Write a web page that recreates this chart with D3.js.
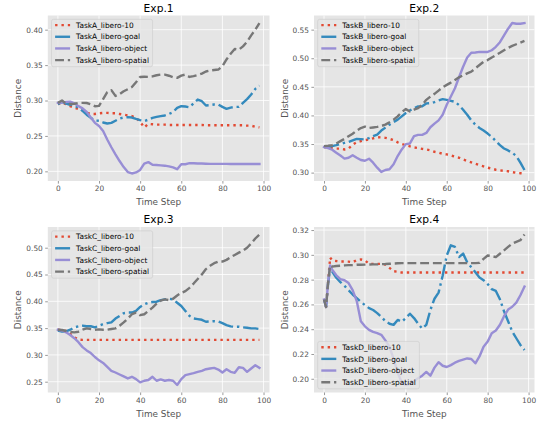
<!DOCTYPE html>
<html>
<head>
<meta charset="utf-8">
<script src="https://cdn.jsdelivr.net/npm/d3@7"></script>
<style>
  html, body { margin: 0; padding: 0; background: #ffffff; }
  svg { display: block; font-family: "DejaVu Sans", sans-serif; }
</style>
</head>
<body>
<svg id="chart" width="539" height="421"></svg>
<script>
// ---------------- DATA ----------------
const stepsABC = [0,2,4,6,8,10,12,14,16,18,20,22,24,26,28,30,32,34,36,38,40,42,44,46,48,50,52,54,56,58,60,62,64,66,68,70,72,74,76,78,80,82,84,86,88,90,92,94,96,98];
const stepsD = [0,1,2,3,4,6,8,10,12,14,16,18,20,22,24,26,28,30,32,34,36,38,40,42,44,46,48,50,52,54,56,58,60,62,64,66,68,70,72,74,76,78,80,82,84,86,88,90,92,94,96,98];

const titles = ["Exp.1", "Exp.2", "Exp.3", "Exp.4"];
const taskNames = ["TaskA", "TaskB", "TaskC", "TaskD"];
const suiteNames = ["libero-10", "libero-goal", "libero-object", "libero-spatial"];
const xTicks = [0, 20, 40, 60, 80, 100];
const yTicks1 = [0.20, 0.25, 0.30, 0.35, 0.40];
const yTicks2 = [0.30, 0.35, 0.40, 0.45, 0.50, 0.55];
const yTicks3 = [0.25, 0.30, 0.35, 0.40, 0.45, 0.50];
const yTicks4 = [0.20, 0.22, 0.24, 0.26, 0.28, 0.30, 0.32];

// Exp.1
const A_10 = [.295,.297,.295,.292,.290,.288,.286,.283,.281,.281,
  .282,.2825,.2825,.282,.282,.281,.280,.279,.278,.2755,
  .270,.262,.267,.2665,.266,.266,.266,.2655,.2655,.2655,
  .2655,.2655,.2655,.2655,.2655,.2655,.265,.265,.265,.265,
  .265,.265,.265,.265,.265,.265,.2645,.2645,.263,.262];
const A_goal = [.295,.298,.2955,.294,.293,.2897,.2855,.280,.2755,.2718,
  .2714,.269,.2676,.2685,.2715,.2746,.276,.2765,.276,.274,
  .2723,.271,.273,.2755,.277,.278,.2789,.281,.2836,.2897,
  .292,.2915,.2905,.296,.3014,.299,.293,.2935,.2944,.2944,
  .291,.2883,.290,.291,.291,.2967,.302,.3085,.3164,.3211];
const A_object = [.2967,.297,.298,.2985,.296,.292,.289,.284,.276,.2685,
  .264,.257,.245,.234,.224,.2146,.206,.199,.197,.1985,
  .202,.211,.213,.2094,.209,.2085,.208,.207,.2055,.203,
  .210,.210,.2115,.2115,.211,.211,.2108,.2105,.2105,.2105,
  .2105,.2105,.2104,.2104,.2104,.2103,.2103,.2103,.2103,.2103];
const A_spatial = [.2967,.300,.2955,.295,.2955,.2965,.2967,.2965,.2948,.292,
  .2925,.302,.3117,.3146,.3065,.309,.3131,.316,.319,.3258,
  .3333,.3335,.3333,.334,.3357,.3366,.3366,.335,.3329,.332,
  .3352,.3366,.3333,.3345,.336,.338,.341,.3423,.343,.3437,
  .3484,.358,.366,.3728,.3718,.3765,.383,.392,.400,.4094];

// Exp.2
const B_10 = [.3446,.344,.343,.342,.342,.3405,.342,.349,.3532,.355,
  .3567,.358,.360,.3619,.3615,.3608,.359,.3567,.353,.350,
  .348,.346,.344,.343,.3415,.3405,.339,.3365,.335,.333,
  .3318,.330,.328,.326,.323,.3203,.318,.3155,.313,.311,
  .3087,.307,.305,.304,.303,.3023,.301,.2995,.299,.2985];
const B_goal = [.3446,.345,.3463,.348,.3503,.352,.3538,.3565,.359,.3585,
  .3579,.3605,.3637,.3666,.3735,.3787,.3839,.3885,.3926,.3984,
  .4042,.4088,.4128,.4157,.416,.421,.4215,.4233,.4262,.4285,
  .4273,.4256,.4238,.418,.41,.4013,.3914,.3839,.3781,.3735,
  .3683,.3625,.355,.348,.3422,.3388,.3347,.329,.3174,.3046];
const B_object = [.3446,.343,.340,.3347,.330,.3245,.326,.3305,.326,.322,
  .3208,.3243,.3174,.3087,.3012,.3046,.3058,.3145,.329,.3405,
  .3498,.351,.3637,.366,.366,.3694,.3793,.3856,.3914,.4013,
  .4186,.4331,.4476,.4667,.4852,.5014,.5095,.510,.5112,.511,
  .511,.514,.520,.528,.540,.5517,.5616,.5604,.5604,.5616];
const B_spatial = [.3463,.347,.348,.351,.355,.359,.3637,.368,.3735,.378,
  .3805,.3781,.379,.3799,.3815,.3839,.388,.3926,.3984,.4059,
  .4111,.407,.41,.4128,.4186,.4273,.4331,.4377,.4435,.4493,
  .4534,.4574,.462,.4667,.4701,.4736,.4765,.4823,.4881,.4939,
  .4968,.5014,.5054,.5095,.5141,.5182,.5216,.5245,.5274,.5303];

// Exp.3
const C_10 = [.347,.346,.3446,.339,.333,.3286,.328,.328,.328,.328,
  .328,.328,.328,.328,.328,.328,.328,.328,.328,.328,
  .328,.328,.328,.328,.328,.328,.328,.328,.328,.328,
  .328,.328,.328,.328,.328,.328,.328,.328,.328,.328,
  .328,.328,.328,.328,.328,.328,.328,.328,.328,.328];
const C_goal = [.3452,.3434,.3438,.347,.3514,.3532,.3544,.3535,.3535,.3514,
  .3544,.3575,.3593,.3606,.3679,.3728,.3778,.379,.379,.3821,
  .3894,.3943,.3974,.3986,.3993,.4023,.4036,.4048,.4036,.3974,
  .3913,.3821,.3728,.3679,.3667,.3655,.3618,.3624,.363,.3624,
  .3593,.3557,.3532,.3526,.3526,.3514,.3507,.3495,.3495,.3483];
const C_object = [.347,.3455,.3421,.3372,.3311,.3237,.3145,.3084,.3034,.2961,
  .2899,.285,.2776,.2703,.2672,.2635,.2598,.2561,.2592,.2549,
  .2488,.2518,.2531,.2592,.2518,.2543,.2518,.2531,.2518,.2439,
  .2549,.2623,.2641,.266,.2684,.2703,.2733,.2746,.2758,.2727,
  .2672,.2733,.2684,.2666,.277,.2758,.2684,.2746,.2807,.2758];
const C_spatial = [.347,.3465,.3446,.3427,.3421,.3433,.347,.3495,.3483,.347,
  .3477,.347,.347,.3483,.3495,.3544,.3606,.3679,.3759,.379,
  .3741,.3759,.3821,.3882,.3956,.4011,.4036,.4023,.4048,.4109,
  .4158,.4189,.4251,.4331,.4417,.4502,.4601,.4662,.4711,.4742,
  .4742,.4773,.4822,.4865,.4908,.4945,.5,.508,.5172,.5246];

// Exp.4 (x = stepsD)
const D_10 = [.264,.258,.278,.2978,
  .2955,.295,.2946,.2946,.2945,.294,.2958,.2963,.2955,.2928,
  .2927,.2927,.2927,.2922,.2895,.2868,.2864,.2857,.2857,.2857,
  .2857,.2857,.2857,.2857,.2857,.2857,.2857,.2857,.2857,.2857,
  .2857,.2857,.2857,.2857,.2857,.2857,.2857,.2857,.2857,.2857,
  .2857,.2857,.2857,.2857,.2857,.2857,.2857,.2857];
const D_goal = [.264,.258,.277,.2895,
  .2865,.2815,.278,.275,.2715,.268,.265,.262,.2595,.257,
  .2555,.253,.250,.2465,.2444,.2435,.2475,.246,.249,.2525,
  .249,.2445,.2405,.2435,.2555,.2646,.2695,.2832,.2995,.3077,
  .3064,.2982,.301,.2941,.290,.2859,.2818,.2796,.2764,.2723,
  .2709,.2641,.2545,.2464,.2382,.2327,.2273,.2232];
const D_object = [.264,.258,.278,.2915,
  .288,.2835,.2804,.2795,.2772,.2715,.2627,.2464,.2423,.2395,
  .2378,.2368,.2355,.231,.226,.216,.205,.197,.195,.196,
  .198,.2005,.2025,.2055,.2025,.209,.2134,.2105,.2095,.211,
  .213,.2145,.2155,.2164,.216,.2125,.218,.2259,.23,.2368,
  .239,.2436,.2505,.2559,.2581,.2614,.2674,.2744];
const D_spatial = [.264,.258,.278,.2915,
  .2905,.291,.2912,.2915,.2917,.2918,.292,.292,.2921,.2922,
  .2923,.2923,.2925,.2926,.2928,.293,.2932,.2933,.2933,.2933,
  .2933,.2933,.2933,.2933,.2933,.2933,.2933,.2933,.2933,.2933,
  .2933,.2933,.2933,.2933,.2933,.2933,.2935,.2968,.2995,.299,
  .2982,.3009,.3036,.3064,.3091,.3105,.3118,.3164];

// ---------------- STYLE / LAYOUT ----------------
const colors = ["#E24A33", "#348ABD", "#988ED5", "#777777"];
const LW = 2.4;
const dashes = [
  [LW, LW * 1.65].join(","),
  [LW * 6.4, LW * 1.6, LW, LW * 1.6].join(","),
  null,
  [LW * 3.7, LW * 1.6].join(",")
];

const panels = [
  { box: [47.8, 15.5, 269.5, 181], steps: stepsABC, series: [A_10, A_goal, A_object, A_spatial], yTicks: yTicks1, legend: "ul" },
  { box: [314, 15.5, 534.5, 181], steps: stepsABC, series: [B_10, B_goal, B_object, B_spatial], yTicks: yTicks2, legend: "ul" },
  { box: [47.8, 227, 269.5, 392.5], steps: stepsABC, series: [C_10, C_goal, C_object, C_spatial], yTicks: yTicks3, legend: "ul" },
  { box: [314, 227, 534.5, 392.5], steps: stepsD, series: [D_10, D_goal, D_object, D_spatial], yTicks: yTicks4, legend: "ll" }
];

const svg = d3.select("#chart");
const tickFS = 7.4, labelFS = 8.9, titleFS = 10.7;

panels.forEach((p, i) => {
  const [x0, y0, x1, y1] = p.box;
  const xExt = d3.extent(p.steps);
  const xPad = (xExt[1] - xExt[0]) * 0.05;
  const x = d3.scaleLinear().domain([xExt[0] - xPad, xExt[1] + xPad]).range([x0, x1]);
  const allY = p.series.flat();
  const yExt = d3.extent(allY);
  const yPad = (yExt[1] - yExt[0]) * 0.05;
  const y = d3.scaleLinear().domain([yExt[0] - yPad, yExt[1] + yPad]).range([y1, y0]);

  const g = svg.append("g");
  const clipId = "clip" + i;
  svg.append("clipPath").attr("id", clipId).append("rect")
    .attr("x", x0).attr("y", y0).attr("width", x1 - x0).attr("height", y1 - y0);

  // background
  g.append("rect").attr("x", x0).attr("y", y0).attr("width", x1 - x0).attr("height", y1 - y0)
    .attr("fill", "#E5E5E5");

  // grid
  g.append("g").selectAll("line").data(xTicks.filter(t => x(t) >= x0 && x(t) <= x1)).join("line")
    .attr("x1", d => x(d)).attr("x2", d => x(d)).attr("y1", y0).attr("y2", y1)
    .attr("stroke", "#ffffff").attr("stroke-width", 0.8);
  g.append("g").selectAll("line").data(p.yTicks).join("line")
    .attr("y1", d => y(d)).attr("y2", d => y(d)).attr("x1", x0).attr("x2", x1)
    .attr("stroke", "#ffffff").attr("stroke-width", 0.8);

  // axes via d3 axis generators
  const xAxis = d3.axisBottom(x).tickValues(xTicks).tickSize(2.6).tickPadding(2.4).tickFormat(d3.format("d"));
  const yAxis = d3.axisLeft(y).tickValues(p.yTicks).tickSize(2.6).tickPadding(2.4)
    .tickFormat(d3.format(".2f"));
  const gx = g.append("g").attr("transform", `translate(0,${y1})`).call(xAxis);
  const gy = g.append("g").attr("transform", `translate(${x0},0)`).call(yAxis);
  [gx, gy].forEach(ax => {
    ax.select(".domain").remove();
    ax.selectAll(".tick line").attr("stroke", "#555555").attr("stroke-width", 0.6);
    ax.selectAll(".tick text").attr("fill", "#555555").attr("font-size", tickFS)
      .attr("font-family", "DejaVu Sans");
  });

  // lines
  const lineG = g.append("g").attr("clip-path", `url(#${clipId})`);
  p.series.forEach((vals, si) => {
    const data = p.steps.map((s, k) => [s, vals[k]]);
    const line = d3.line().x(d => x(d[0])).y(d => y(d[1]));
    lineG.append("path").datum(data).attr("d", line)
      .attr("fill", "none").attr("stroke", colors[si]).attr("stroke-width", LW)
      .attr("stroke-dasharray", dashes[si])
      .attr("stroke-linejoin", "round")
      .attr("stroke-linecap", si === 2 ? "square" : "butt");
  });

  // title and labels
  svg.append("text").attr("x", (x0 + x1) / 2).attr("y", y0 - 3.6)
    .attr("text-anchor", "middle").attr("font-size", titleFS).attr("fill", "#000000")
    .text(titles[i]);
  svg.append("text").attr("x", (x0 + x1) / 2).attr("y", y1 + 24)
    .attr("text-anchor", "middle").attr("font-size", labelFS).attr("fill", "#555555")
    .text("Time Step");
  svg.append("text").attr("transform", `translate(${x0 - 26.5},${(y0 + y1) / 2}) rotate(-90)`)
    .attr("text-anchor", "middle").attr("font-size", labelFS).attr("fill", "#555555")
    .text("Distance");

  // legend
  const rowH = 11.67;
  const boxH = 47.4;
  const lx = x0 + 3.7;
  const ly = p.legend === "ul" ? y0 + 3.8 : y1 - 3.7 - boxH;
  const lg = svg.append("g");
  const bg = lg.append("rect").attr("x", lx).attr("y", ly).attr("height", boxH)
    .attr("rx", 2).attr("ry", 2)
    .attr("fill", "#E5E5E5").attr("fill-opacity", 0.8)
    .attr("stroke", "#CCCCCC").attr("stroke-opacity", 0.8).attr("stroke-width", 0.75);
  let maxW = 0;
  suiteNames.forEach((name, si) => {
    const cy = ly + 5.8 + rowH * si;
    lg.append("line").attr("x1", lx + 3.6).attr("x2", lx + 18.6).attr("y1", cy).attr("y2", cy)
      .attr("stroke", colors[si]).attr("stroke-width", LW)
      .attr("stroke-dasharray", dashes[si])
      .attr("stroke-linecap", "butt");
    const t = lg.append("text").attr("x", lx + 24.6).attr("y", cy + 2.7)
      .attr("font-size", tickFS).attr("fill", "#000000")
      .text(taskNames[i] + "_" + name);
    maxW = Math.max(maxW, t.node().getComputedTextLength());
  });
  bg.attr("width", 24.6 + maxW + 3.6);
});
</script>
</body>
</html>
